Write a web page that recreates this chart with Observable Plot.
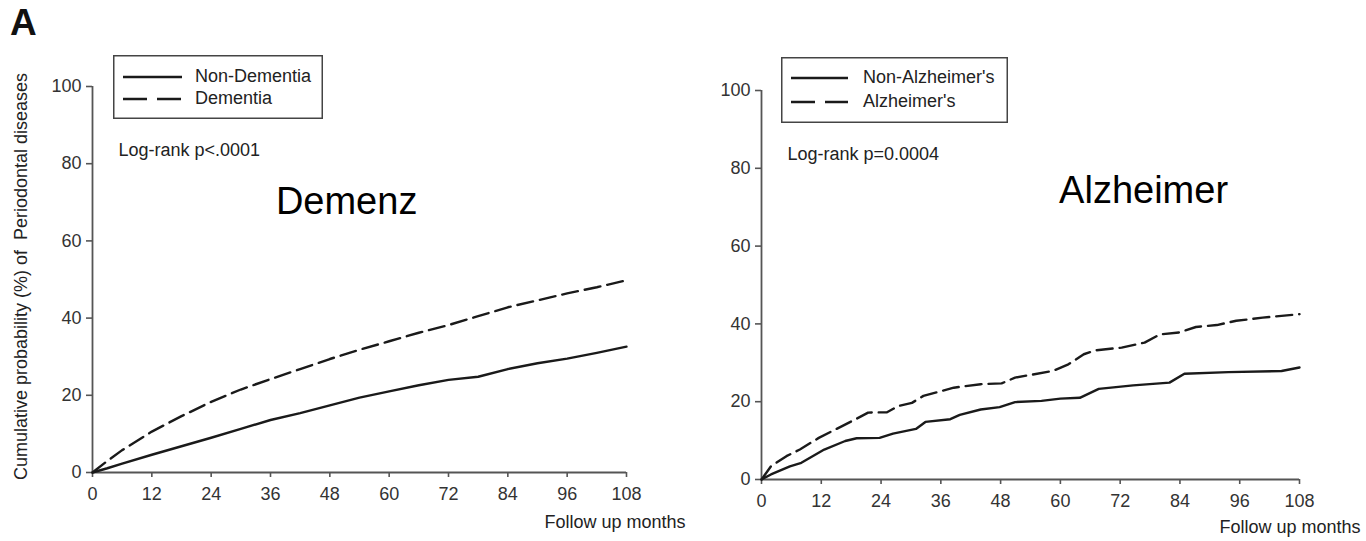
<!DOCTYPE html>
<html><head><meta charset="utf-8">
<script src="https://cdn.jsdelivr.net/npm/d3@7"></script>
<script src="https://cdn.jsdelivr.net/npm/@observablehq/plot@0.6"></script>
<style>
body{margin:0;background:#fff;font-family:"Liberation Sans",Arial,sans-serif;}
#wrap{position:relative;width:1366px;height:541px;overflow:hidden;background:#fff;}
.panel{position:absolute;top:0;}
.legend{position:absolute;}
#A{position:absolute;left:10px;top:4px;line-height:1;font:bold 37px/1 "Liberation Sans",Arial,sans-serif;color:#111;}
</style></head><body>
<div id="wrap">
  <div class="panel" id="left" style="left:0px"></div>
  <div class="panel" id="right" style="left:683px"></div>
  <div id="A">A</div>
  <div class="legend" id="legL" style="left:113px;top:55px"></div>
  <div class="legend" id="legR" style="left:781px;top:57px"></div>
</div>
<script>
// ---- Data ----
const xTicks = [0, 12, 24, 36, 48, 60, 72, 84, 96, 108];
const yTicks = [0, 20, 40, 60, 80, 100];

// Panel 1: Dementia
const monthsDem = [0, 3, 6, 12, 18, 24, 30, 36, 42, 48, 54, 60, 66, 72, 78, 84, 90, 96, 102, 108];
const nonDementia = [0, 1.1, 2.3, 4.6, 6.8, 9.0, 11.3, 13.6, 15.4, 17.4, 19.4, 21.0, 22.6, 24.0, 24.8, 26.8, 28.3, 29.5, 31.0, 32.6];
const dementia    = [0, 3.0, 5.8, 10.6, 14.6, 18.3, 21.5, 24.2, 26.8, 29.4, 31.8, 34.0, 36.2, 38.2, 40.5, 42.8, 44.6, 46.4, 48.0, 49.8];

// Panel 2: Alzheimer's
const monthsNonAlz = [0, 1.9, 5.7, 8, 12.6, 16.8, 19.1, 23.7, 26.4, 31, 32.9, 37.9, 39.8, 44, 47.8, 50.9, 56.2, 60, 63.9, 67.7, 74.6, 81.9, 84.9, 93.7, 104.4, 108];
const nonAlzheimer = [0, 1.3, 3.4, 4.3, 7.7, 9.9, 10.6, 10.7, 11.8, 13.0, 14.8, 15.5, 16.6, 18.0, 18.6, 19.9, 20.2, 20.8, 21.0, 23.3, 24.2, 24.9, 27.2, 27.6, 27.9, 28.8];
const monthsAlz = [0, 1.9, 5, 7.7, 11.5, 14.9, 19.5, 21.4, 25.2, 27.5, 30.2, 32.5, 38.6, 44, 48.2, 50.9, 58.5, 61.6, 64.7, 67, 72.3, 76.9, 80, 83.8, 87.2, 91.4, 95.3, 100.6, 108];
const alzheimer = [0, 3.4, 6.0, 7.7, 10.7, 12.9, 15.9, 17.2, 17.3, 18.9, 19.7, 21.5, 23.6, 24.5, 24.7, 26.2, 27.9, 29.6, 32.2, 33.2, 33.9, 35.2, 37.3, 37.8, 39.2, 39.7, 40.8, 41.6, 42.5];

const yLabel = "Cumulative probability (%) of  Periodontal diseases";
const xLabel = "Follow up months";

const FONT = '"Liberation Sans", Arial, sans-serif';
const INK = "#1a1a1a";
const AXIS = "#555";
const DASH = "16,7";

function toRows(xs, ys) { return xs.map((m, i) => ({m, v: ys[i]})); }

function panel({width, marginLeft, marginRight, marginTop, marginBottom, solid, dashed, logrank, big, bigX, bigY, labelDx, labelDy}) {
  return Plot.plot({
    width, height: 541, marginLeft, marginRight, marginTop, marginBottom,
    x: {domain: [0, 108]},
    y: {domain: [0, 100]},
    style: {fontFamily: FONT, fontSize: "18px", color: "#333", background: "transparent", overflow: "visible"},
    marks: [
      Plot.ruleX([0], {stroke: AXIS, strokeWidth: 1.8}),
      Plot.ruleY([0], {stroke: AXIS, strokeWidth: 1.8}),
      Plot.axisX({ticks: xTicks, tickSize: 5, tickPadding: 10, label: null, stroke: AXIS, strokeWidth: 1.6, fontSize: 18}),
      Plot.axisY({ticks: yTicks, tickSize: 6, tickPadding: 5, label: null, stroke: AXIS, strokeWidth: 1.6, fontSize: 18}),
      Plot.line(solid, {x: "m", y: "v", stroke: INK, strokeWidth: 2.4}),
      Plot.line(dashed, {x: "m", y: "v", stroke: INK, strokeWidth: 2.4, strokeDasharray: DASH}),
      Plot.text([logrank], {frameAnchor: "top-left", dx: 26, dy: 64, textAnchor: "start", lineAnchor: "middle", fontSize: 18, fill: "#222"}),
      Plot.text([big], {x: () => bigX, y: () => bigY, fontSize: 38, fill: "#000"}),
      Plot.text([xLabel], {frameAnchor: "bottom-right", dx: labelDx, dy: labelDy, textAnchor: "end", lineAnchor: "middle", fontSize: 18, fill: "#222"})
    ]
  });
}

const left = panel({
  width: 700, marginLeft: 92, marginRight: 74, marginTop: 86, marginBottom: 69,
  solid: toRows(monthsDem, nonDementia), dashed: toRows(monthsDem, dementia),
  logrank: "Log-rank p<.0001", big: "Demenz", bigX: 51.4, bigY: 70, labelDx: 59, labelDy: 50
});
document.getElementById("left").appendChild(left);
d3.select(left).append("text")
  .attr("transform", `translate(22, ${(68 + 485) / 2}) rotate(-90)`)
  .attr("text-anchor", "middle").attr("dominant-baseline", "middle")
  .attr("font-size", 18).attr("fill", "#222").attr("font-family", FONT)
  .text(yLabel);

const right = panel({
  width: 683, marginLeft: 78, marginRight: 67, marginTop: 90, marginBottom: 62,
  solid: toRows(monthsNonAlz, nonAlzheimer), dashed: toRows(monthsAlz, alzheimer),
  logrank: "Log-rank p=0.0004", big: "Alzheimer", bigX: 76.7, bigY: 74.3, labelDx: 61, labelDy: 48
});
document.getElementById("right").appendChild(right);

// Legends
function legend(el, w, h, y1, y2, lx1, lx2, tx, labels) {
  const s = d3.select(el).append("svg").attr("width", w).attr("height", h).style("display", "block");
  s.append("rect").attr("x", 0.75).attr("y", 0.75).attr("width", w - 1.5).attr("height", h - 1.5)
    .attr("fill", "#fff").attr("stroke", "#444").attr("stroke-width", 1.5);
  s.append("line").attr("x1", lx1).attr("x2", lx2).attr("y1", y1).attr("y2", y1).attr("stroke", INK).attr("stroke-width", 2.4);
  s.append("line").attr("x1", lx1).attr("x2", lx2).attr("y1", y2).attr("y2", y2).attr("stroke", INK).attr("stroke-width", 2.4).attr("stroke-dasharray", "24,10");
  [[y1, labels[0]], [y2, labels[1]]].forEach(([y, t]) => {
    s.append("text").attr("x", tx).attr("y", y).attr("dominant-baseline", "middle")
      .attr("font-family", FONT).attr("font-size", 18).attr("fill", "#222").text(t);
  });
}
legend(document.getElementById("legL"), 210, 64, 22, 44, 10, 69, 82, ["Non-Dementia", "Dementia"]);
legend(document.getElementById("legR"), 227, 66, 21, 45, 10, 67, 82, ["Non-Alzheimer's", "Alzheimer's"]);
</script>
</body></html>
